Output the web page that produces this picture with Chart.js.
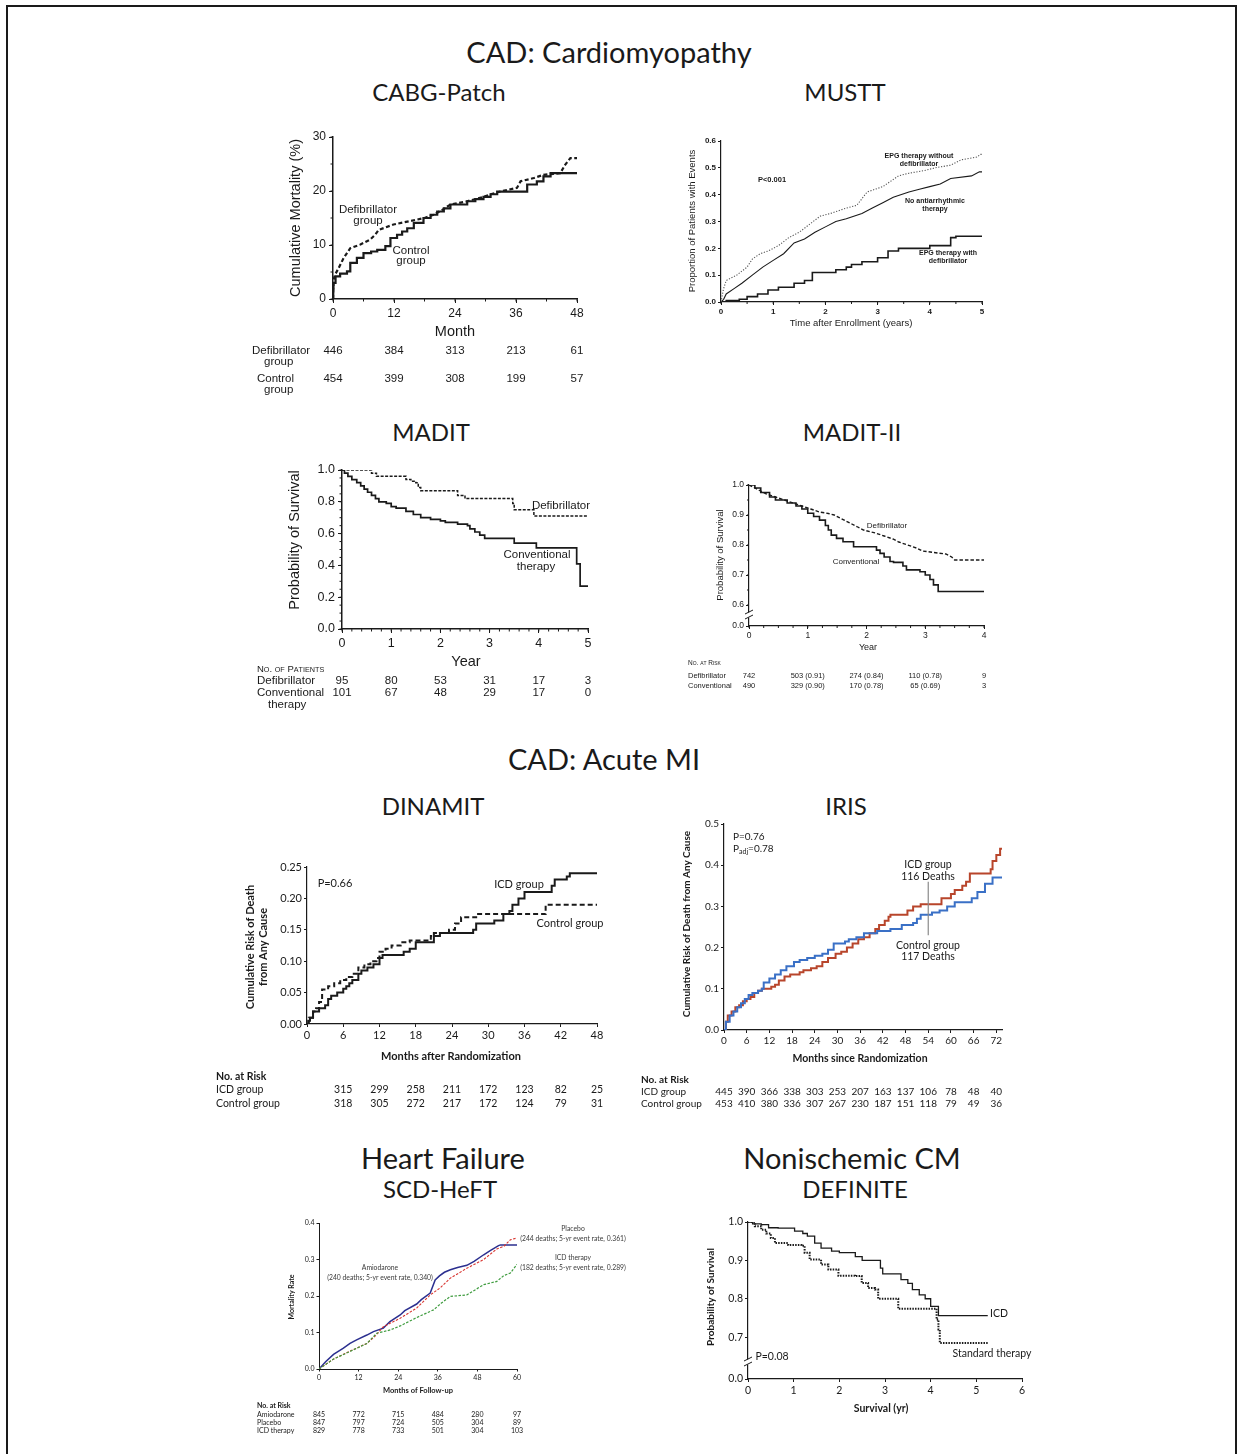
<!DOCTYPE html>
<html>
<head>
<meta charset="utf-8">
<script src="https://cdn.jsdelivr.net/npm/chart.js@4.4.1/dist/chart.umd.min.js"></script>
<style>
  html, body { margin: 0; padding: 0; background: #fff; }
  #page { position: relative; width: 1242px; height: 1454px; overflow: hidden; }
  #page canvas { position: absolute; left: 0; top: 0; }
  .frame { position: absolute; left: 6px; top: 5px; width: 1231px; height: 1500px; border: 2px solid #1a1a1a; box-sizing: border-box; }
  .ttl { position: absolute; font-family: Lato, "Open Sans", sans-serif; color: #1a1a1a; line-height: 1; white-space: nowrap; transform: translateX(-50%); }
  .h1 { font-size: 29px; }
  .h2 { font-size: 24px; }
</style>
</head>
<body>
<div id="page">
  <div class="frame"></div>
  <div class="ttl h1" style="left:609px;top:37px">CAD: Cardiomyopathy</div>
  <div class="ttl h2" style="left:439px;top:80px">CABG-Patch</div>
  <div class="ttl h2" style="left:845px;top:80px">MUSTT</div>
  <div class="ttl h2" style="left:431px;top:420px">MADIT</div>
  <div class="ttl h2" style="left:852px;top:420px">MADIT-II</div>
  <div class="ttl h1" style="left:604px;top:744px">CAD: Acute MI</div>
  <div class="ttl h2" style="left:433px;top:794px">DINAMIT</div>
  <div class="ttl h2" style="left:846px;top:794px">IRIS</div>
  <div class="ttl h1" style="left:443px;top:1143px">Heart Failure</div>
  <div class="ttl h2" style="left:440px;top:1177px">SCD-HeFT</div>
  <div class="ttl h1" style="left:852px;top:1143px">Nonischemic CM</div>
  <div class="ttl h2" style="left:855px;top:1177px">DEFINITE</div>

  <canvas id="cabg" width="1242" height="1454"></canvas>
  <canvas id="mustt" width="1242" height="1454"></canvas>
  <canvas id="madit" width="1242" height="1454"></canvas>
  <canvas id="madit2" width="1242" height="1454"></canvas>
  <canvas id="dinamit" width="1242" height="1454"></canvas>
  <canvas id="iris" width="1242" height="1454"></canvas>
  <canvas id="scdheft" width="1242" height="1454"></canvas>
  <canvas id="definite" width="1242" height="1454"></canvas>
</div>
<script>
// ---------- data: [time, value] steps ----------

// CABG-Patch (cumulative mortality, %)
const cabgMonths = [0, 12, 24, 36, 48];
const cabgYTicks = [0, 10, 20, 30];
const cabgDefib = [[0,0],[0.1,3.5],[0.4,4.5],[1.1,5.7],[2.1,7.6],[3.4,9.4],[5.4,10.1],[7.3,11],[8.3,11.9],[9,12.8],[11.9,13.8],[16.5,14.7],[18,15],[19.8,15.6],[21.5,16.5],[23.1,17.5],[26.4,18.1],[29.6,18.9],[31,19.4],[32.9,19.9],[36.2,20.6],[36.9,21.8],[39.5,22.4],[41.4,23],[44.7,23.3],[45.7,24.9],[46.7,26.1],[48,26.1]];
const cabgControl = [[0,0],[0.05,2],[0.1,3],[0.5,4.2],[1.4,4.7],[2.75,5.1],[3.4,6.7],[4.7,7.6],[6,8.5],[7.5,8.8],[8.7,9.1],[10.3,9.8],[11.3,11.3],[12.6,11.9],[13.6,12.5],[14.6,13.1],[15.9,14.1],[17.8,15],[19.2,15.6],[20.5,16.2],[21.8,16.8],[23.1,17.5],[26.4,18.1],[28,18.5],[29.6,18.9],[31,19.4],[32.3,19.9],[38.2,21.2],[40.1,21.8],[41.4,22.7],[42.8,23.3],[48,23.3]];
const cabgRiskDefib = [446, 384, 313, 213, 61];
const cabgRiskControl = [454, 399, 308, 199, 57];

// MUSTT (proportion with events)
const musttYears = [0, 1, 2, 3, 4, 5];
const musttYTicks = [0, 0.1, 0.2, 0.3, 0.4, 0.5, 0.6];
const musttEpgNoDefib = [[0,0],[0.05,0.05],[0.1,0.08],[0.3,0.1],[0.5,0.13],[0.6,0.16],[0.75,0.18],[0.9,0.19],[1.1,0.21],[1.3,0.24],[1.5,0.26],[1.7,0.29],[1.9,0.32],[2.1,0.33],[2.4,0.35],[2.6,0.36],[2.8,0.41],[3.1,0.43],[3.4,0.47],[3.6,0.48],[3.9,0.49],[4.1,0.5],[4.4,0.51],[4.6,0.53],[4.9,0.54],[4.97,0.55],[5,0.55]];
const musttNoTherapy = [[0,0],[0.05,0.01],[0.1,0.03],[0.25,0.05],[0.4,0.07],[0.6,0.1],[0.8,0.13],[1.0,0.155],[1.2,0.18],[1.4,0.22],[1.6,0.235],[1.8,0.26],[2.0,0.28],[2.2,0.3],[2.4,0.31],[2.7,0.33],[2.9,0.35],[3.1,0.37],[3.3,0.39],[3.6,0.41],[3.8,0.42],[4.0,0.43],[4.2,0.44],[4.4,0.46],[4.8,0.47],[4.95,0.485],[5,0.485]];
const musttEpgDefib = [[0,0],[0.1,0.005],[0.35,0.01],[0.5,0.02],[0.7,0.03],[0.9,0.045],[1.1,0.055],[1.4,0.07],[1.6,0.08],[1.75,0.11],[2.2,0.12],[2.4,0.13],[2.5,0.14],[2.7,0.15],[3.0,0.165],[3.2,0.19],[3.4,0.2],[4.0,0.21],[4.4,0.24],[4.5,0.245],[5,0.245]];

// MADIT (probability of survival)
const maditYears = [0, 1, 2, 3, 4, 5];
const maditYTicks = [0, 0.2, 0.4, 0.6, 0.8, 1.0];
const maditDefib = [[0,1],[0.6,0.98],[0.7,0.96],[1.3,0.94],[1.4,0.93],[1.5,0.92],[1.55,0.89],[1.6,0.87],[2.35,0.84],[2.5,0.82],[3.47,0.79],[3.5,0.75],[3.9,0.71],[5,0.71]];
const maditConv = [[0,1],[0.05,0.98],[0.12,0.96],[0.2,0.94],[0.3,0.92],[0.38,0.9],[0.45,0.88],[0.52,0.86],[0.6,0.84],[0.68,0.82],[0.75,0.8],[0.9,0.79],[1.0,0.77],[1.1,0.76],[1.3,0.74],[1.45,0.72],[1.6,0.7],[1.8,0.69],[2.0,0.68],[2.1,0.67],[2.35,0.66],[2.55,0.65],[2.6,0.63],[2.7,0.61],[2.8,0.59],[2.9,0.57],[3.5,0.54],[3.95,0.51],[4.77,0.41],[4.84,0.27],[5,0.27]];
const maditRiskDefib = [95, 80, 53, 31, 17, 3];
const maditRiskConv = [101, 67, 48, 29, 17, 0];

// MADIT-II (probability of survival, broken axis)
const madit2Years = [0, 1, 2, 3, 4];
const madit2YTicks = [0.53, 0.6, 0.7, 0.8, 0.9, 1.0];
const madit2Defib = [[0,1],[0.1,0.99],[0.2,0.98],[0.3,0.97],[0.45,0.96],[0.6,0.95],[0.75,0.94],[0.9,0.93],[1.05,0.92],[1.2,0.91],[1.35,0.905],[1.45,0.9],[1.55,0.89],[1.65,0.88],[1.75,0.87],[1.85,0.86],[1.95,0.85],[2.15,0.84],[2.3,0.83],[2.45,0.82],[2.55,0.81],[2.7,0.8],[2.85,0.79],[2.95,0.78],[3.15,0.775],[3.35,0.77],[3.45,0.76],[3.5,0.75],[4,0.75]];
const madit2Conv = [[0,1],[0.1,0.99],[0.2,0.975],[0.35,0.96],[0.45,0.95],[0.65,0.94],[0.8,0.93],[0.9,0.92],[1.0,0.906],[1.1,0.895],[1.2,0.883],[1.3,0.865],[1.35,0.85],[1.4,0.833],[1.49,0.822],[1.6,0.811],[1.78,0.794],[2.17,0.783],[2.23,0.772],[2.3,0.76],[2.4,0.745],[2.46,0.742],[2.62,0.73],[2.68,0.717],[2.91,0.711],[3.0,0.7],[3.08,0.685],[3.14,0.667],[3.22,0.645],[4,0.645]];
const madit2RiskDefib = ['742', '503 (0.91)', '274 (0.84)', '110 (0.78)', '9'];
const madit2RiskConv = ['490', '329 (0.90)', '170 (0.78)', '65 (0.69)', '3'];

// DINAMIT (cumulative risk of death)
const dinMonths = [0, 6, 12, 18, 24, 30, 36, 42, 48];
const dinYTicks = [0, 0.05, 0.1, 0.15, 0.2, 0.25];
const dinIcd = [[0,0],[0.2,0.005],[0.5,0.01],[1,0.02],[2,0.025],[3,0.03],[3.5,0.04],[4,0.045],[5,0.05],[6,0.056],[6.5,0.06],[7,0.065],[7.5,0.07],[8.5,0.08],[9,0.085],[10,0.09],[11,0.095],[12,0.105],[12.5,0.11],[16,0.115],[17,0.12],[18,0.13],[21,0.14],[22,0.145],[27.5,0.15],[28,0.16],[31,0.165],[32.5,0.175],[33.5,0.18],[34,0.19],[35,0.2],[36,0.21],[40.5,0.22],[41,0.23],[43,0.235],[43.5,0.24],[48,0.24]];
const dinControl = [[0,0],[0.3,0.01],[1,0.02],[1.5,0.025],[2,0.035],[2.5,0.055],[3.5,0.06],[4.5,0.065],[5.5,0.07],[6.5,0.075],[7.5,0.08],[8.5,0.09],[9.5,0.095],[10.5,0.1],[11.5,0.105],[12,0.115],[13,0.12],[14,0.125],[15.5,0.13],[17,0.133],[20.5,0.14],[21,0.145],[23.5,0.15],[24.5,0.16],[25.5,0.17],[28,0.175],[39.5,0.19],[48,0.19]];
const dinRiskCols = [6, 12, 18, 24, 30, 36, 42, 48];
const dinRiskIcd = [315, 299, 258, 211, 172, 123, 82, 25];
const dinRiskControl = [318, 305, 272, 217, 172, 124, 79, 31];

// IRIS (cumulative risk of death)
const irisMonths = [0, 6, 12, 18, 24, 30, 36, 42, 48, 54, 60, 66, 72];
const irisYTicks = [0, 0.1, 0.2, 0.3, 0.4, 0.5];
const irisIcd = [[0,0],[0.5,0.02],[1,0.035],[2,0.045],[3,0.055],[4,0.06],[5,0.07],[6,0.075],[7,0.08],[8,0.09],[9,0.095],[10,0.1],[12.5,0.105],[13.5,0.11],[14.5,0.12],[16,0.13],[17.5,0.135],[20,0.14],[21,0.145],[23,0.15],[24.5,0.155],[26,0.165],[27.5,0.175],[29.5,0.185],[31,0.19],[32.5,0.2],[34,0.21],[35.5,0.22],[37,0.225],[38.5,0.235],[40,0.245],[41,0.255],[42.5,0.265],[43.5,0.275],[44,0.28],[48.5,0.29],[50,0.3],[52,0.305],[57.5,0.32],[60,0.33],[61,0.34],[63,0.35],[64,0.36],[65,0.38],[70.5,0.39],[71,0.41],[72,0.425],[73,0.44],[73.5,0.44]];
const irisControl = [[0,0],[0.5,0.02],[1.5,0.035],[2.5,0.045],[3.5,0.055],[4.5,0.065],[5.5,0.075],[6.5,0.085],[7.5,0.09],[9,0.095],[10,0.1],[10.5,0.115],[12,0.125],[13.5,0.135],[15,0.145],[16.5,0.155],[18.5,0.165],[20,0.17],[22,0.175],[24,0.18],[26,0.185],[27.5,0.195],[29,0.21],[32,0.215],[33,0.22],[35,0.225],[37,0.235],[40.5,0.24],[44,0.245],[47,0.255],[50,0.26],[51,0.27],[52,0.28],[55,0.285],[57,0.29],[59,0.3],[61,0.31],[65.5,0.32],[67,0.335],[69,0.355],[71,0.37],[73.5,0.37]];
const irisRiskIcd = [445, 390, 366, 338, 303, 253, 207, 163, 137, 106, 78, 48, 40];
const irisRiskControl = [453, 410, 380, 336, 307, 267, 230, 187, 151, 118, 79, 49, 36];

// SCD-HeFT (mortality rate)
const scdMonths = [0, 12, 24, 36, 48, 60];
const scdYTicks = [0, 0.1, 0.2, 0.3, 0.4];
const scdAmiodarone = [[0,0],[2,0.02],[4.4,0.04],[7.4,0.057],[9.4,0.07],[11.4,0.08],[14.5,0.093],[16.5,0.1025],[19.5,0.112],[21.5,0.13],[24.6,0.148],[26,0.16],[29.6,0.178],[31,0.19],[33.7,0.208],[35.2,0.244],[36.5,0.255],[38,0.265],[39.8,0.272],[42,0.278],[44.8,0.284],[47,0.295],[49.9,0.313],[52,0.325],[54.4,0.338],[55,0.34],[60,0.34]];
const scdPlacebo = [[0,0],[4.35,0.027],[9.4,0.049],[14.5,0.07],[17,0.09],[19.5,0.116],[24.6,0.139],[29.6,0.167],[33.7,0.203],[36.7,0.222],[39.8,0.249],[44.8,0.276],[49.9,0.3],[53.9,0.329],[56,0.336],[58,0.354],[60,0.359]];
const scdIcd = [[0,0],[4.35,0.027],[9.4,0.048],[14.5,0.07],[17.5,0.098],[21.6,0.107],[24.6,0.118],[29.6,0.141],[34.7,0.162],[37,0.18],[39.8,0.199],[44.8,0.203],[49.9,0.231],[53.9,0.24],[56,0.256],[58,0.263],[60,0.287]];
const scdRiskAmiodarone = [845, 772, 715, 484, 280, 97];
const scdRiskPlacebo = [847, 797, 724, 505, 304, 89];
const scdRiskIcd = [829, 778, 733, 501, 304, 103];

// DEFINITE (probability of survival, broken axis)
const defYears = [0, 1, 2, 3, 4, 5, 6];
const defYTicks = [0.591, 0.7, 0.8, 0.9, 1.0];
const defIcd = [[0,1],[0.1,0.995],[0.29,0.993],[0.45,0.985],[0.66,0.984],[1.02,0.976],[1.2,0.97],[1.3,0.963],[1.46,0.945],[1.6,0.932],[1.83,0.924],[2.0,0.92],[2.35,0.91],[2.5,0.9],[2.9,0.88],[2.95,0.865],[3.35,0.85],[3.5,0.84],[3.6,0.824],[3.75,0.81],[3.88,0.8],[4.0,0.78],[4.17,0.756],[5.25,0.756]];
const defStandard = [[0,1],[0.15,0.989],[0.29,0.98],[0.4,0.97],[0.5,0.958],[0.59,0.945],[0.88,0.94],[1.17,0.938],[1.24,0.92],[1.35,0.902],[1.6,0.889],[1.76,0.876],[1.98,0.86],[2.34,0.859],[2.49,0.841],[2.63,0.828],[2.78,0.824],[2.85,0.8],[3.22,0.8],[3.29,0.774],[4.1,0.774],[4.13,0.746],[4.17,0.72],[4.2,0.685],[5.25,0.685]];

// ---------- drawing ----------
const W = 1242, H = 1454, AXW = 40, AXH = 20;
const HELV = '"Liberation Sans", Arial, sans-serif';
const NEJM = 'Lato, "Open Sans", sans-serif';
const INK = '#1a1a1a';

const fnt = (size, weight, fam) => `${weight || 'normal'} ${size}px ${fam}`;

function drawText(ctx, t, defFont) {
  ctx.save();
  ctx.font = t.font || defFont;
  ctx.fillStyle = t.color || INK;
  ctx.textAlign = t.align || 'center';
  ctx.textBaseline = 'middle';
  ctx.translate(t.x, t.y);
  if (t.rot) ctx.rotate(-Math.PI / 2);
  if (t.caps) {
    // small caps by hand: lowercase letters drawn as smaller capitals
    ctx.textAlign = 'left';
    ctx.textBaseline = 'alphabetic';
    let x = 0;
    for (const ch of t.text) {
      const low = ch !== ch.toUpperCase();
      ctx.font = fnt(low ? t.caps * 0.76 : t.caps, 'normal', t.fam);
      ctx.fillText(ch.toUpperCase(), x, t.caps * 0.36);
      x += ctx.measureText(ch.toUpperCase()).width;
    }
  } else if (t.parts) {
    ctx.textAlign = 'left';
    let x = 0;
    t.parts.forEach(p => {
      ctx.font = p.font;
      ctx.fillText(p.text, x, p.dy || 0);
      x += ctx.measureText(p.text).width;
    });
  } else {
    ctx.fillText(t.text, 0, 0);
  }
  ctx.restore();
}

const annot = {
  id: 'annot',
  afterDraw(chart, args, o) {
    const { ctx, chartArea: ca } = chart;
    const xs = chart.scales.x, ys = chart.scales.y;
    ctx.save();
    ctx.strokeStyle = INK;
    ctx.lineWidth = 1;
    const len = o.minorLen || 2;
    if (o.minorX) {
      ctx.beginPath();
      for (let i = 0; ; i++) {
        const v = xs.min + i * o.minorX;
        if (v > xs.max + 1e-9) break;
        const x = xs.getPixelForValue(v);
        ctx.moveTo(x, ca.bottom); ctx.lineTo(x, ca.bottom + len);
      }
      ctx.stroke();
    }
    if (o.minorY) {
      const from = o.minorYFrom !== undefined ? o.minorYFrom : ys.min;
      ctx.beginPath();
      for (let i = 0; ; i++) {
        const v = from + i * o.minorY;
        if (v > ys.max + 1e-9) break;
        const y = ys.getPixelForValue(v);
        ctx.moveTo(ca.left - len, y); ctx.lineTo(ca.left, y);
      }
      ctx.stroke();
    }
    if (o.brk) {
      const x = ca.left, y = o.brk;
      ctx.fillStyle = '#fff';
      ctx.fillRect(x - 2, y - 2.5, 4, 5);
      ctx.beginPath();
      ctx.moveTo(x - 4, y - 1); ctx.lineTo(x + 4, y - 5);
      ctx.moveTo(x - 4, y + 4); ctx.lineTo(x + 4, y);
      ctx.stroke();
    }
    (o.lines || []).forEach(l => {
      ctx.strokeStyle = l.color || INK;
      ctx.lineWidth = l.width || 1;
      ctx.beginPath();
      ctx.moveTo(xs.getPixelForValue(l.x), ys.getPixelForValue(l.y1));
      ctx.lineTo(xs.getPixelForValue(l.x), ys.getPixelForValue(l.y2));
      ctx.stroke();
    });
    (o.texts || []).forEach(t => drawText(ctx, t, o.font));
    (o.rows || []).forEach(r => {
      r.values.forEach((v, i) => drawText(ctx, {
        text: String(v), x: xs.getPixelForValue(o.cols[i]), y: r.y
      }, o.tableFont || o.font));
    });
    ctx.restore();
  }
};

function km(id, p) {
  const [L, T, R, B] = p.plot;
  const tk = p.tick;
  const axis = (vals, min, max, fmt, isX) => ({
    type: 'linear', min, max,
    afterBuildTicks: s => { s.ticks = vals.map(v => ({ value: v })); },
    afterFit: s => { if (isX) s.height = AXH; else s.width = AXW; },
    grid: { display: true, drawOnChartArea: false, drawTicks: true, tickLength: tk.len, tickWidth: 1, color: INK },
    border: { display: true, color: INK, width: p.axisWidth || 1.2 },
    ticks: {
      font: { family: p.fam, size: tk.size, weight: tk.weight || 'normal' },
      color: INK, padding: tk.pad, autoSkip: false, maxRotation: 0,
      callback: fmt
    }
  });
  const last = a => a[a.length - 1];
  return new Chart(document.getElementById(id), {
    type: 'line',
    data: {
      datasets: p.series.map(s => ({
        data: s.data.map(([x, y]) => ({ x, y })),
        borderColor: s.color || INK,
        borderWidth: s.width || 1.5,
        borderDash: s.dash || [],
        stepped: s.smooth || p.smooth ? false : true,
        tension: 0, pointRadius: 0, fill: false
      }))
    },
    options: {
      responsive: false, animation: false, events: [],
      layout: { padding: { left: L - AXW, top: T, right: W - R, bottom: H - B - AXH } },
      plugins: { legend: { display: false }, tooltip: { enabled: false }, annot: p.annot },
      scales: {
        x: axis(p.xTicks, p.xMin !== undefined ? p.xMin : p.xTicks[0], p.xMax !== undefined ? p.xMax : last(p.xTicks), p.xFmt || (v => v), true),
        y: axis(p.yTicks, p.yTicks[0], last(p.yTicks), p.yFmt || (v => v), false)
      }
    },
    plugins: [annot]
  });
}

// CABG-Patch
km('cabg', {
  plot: [333, 137, 577, 299], fam: HELV,
  xTicks: cabgMonths, yTicks: cabgYTicks,
  tick: { size: 12, len: 4, pad: 3 }, axisWidth: 1.5,
  series: [
    { data: cabgDefib, dash: [4, 2.5], width: 2.2, smooth: true },
    { data: cabgControl, width: 2.2 }
  ],
  annot: {
    font: fnt(11.5, 'normal', HELV), tableFont: fnt(11.5, 'normal', HELV),
    minorX: 6, minorY: 5, minorLen: 2.5,
    texts: [
      { text: 'Cumulative Mortality (%)', x: 296, y: 218, rot: true, font: fnt(14.5, 'normal', HELV) },
      { text: 'Month', x: 455, y: 332, font: fnt(14.5, 'normal', HELV) },
      { text: 'Defibrillator', x: 368, y: 210 }, { text: 'group', x: 368, y: 221 },
      { text: 'Control', x: 411, y: 251 }, { text: 'group', x: 411, y: 261 },
      { text: 'Defibrillator', x: 252, y: 351, align: 'left' },
      { text: 'group', x: 264, y: 362, align: 'left' },
      { text: 'Control', x: 257, y: 379, align: 'left' },
      { text: 'group', x: 264, y: 390, align: 'left' }
    ],
    cols: cabgMonths,
    rows: [{ y: 351, values: cabgRiskDefib }, { y: 379, values: cabgRiskControl }]
  }
});

// MUSTT
km('mustt', {
  plot: [721, 141, 982, 302], fam: HELV,
  xTicks: musttYears, yTicks: musttYTicks, yFmt: v => v.toFixed(1),
  tick: { size: 8, weight: 'bold', len: 3, pad: 2 }, axisWidth: 1.2,
  series: [
    { data: musttEpgNoDefib, dash: [1.2, 1.6], width: 1.1, color: '#555', smooth: true },
    { data: musttNoTherapy, width: 1.1, smooth: true },
    { data: musttEpgDefib, width: 1.6 }
  ],
  annot: {
    font: fnt(7, 'bold', HELV), minorX: 0.5, minorLen: 2,
    texts: [
      { text: 'Proportion of Patients with Events', x: 692, y: 221, rot: true, font: fnt(9.5, 'normal', HELV) },
      { text: 'Time after Enrollment (years)', x: 851, y: 323, font: fnt(9.5, 'normal', HELV) },
      { text: 'P<0.001', x: 772, y: 180, font: fnt(7.5, 'bold', HELV) },
      { text: 'EPG therapy without', x: 919, y: 156 }, { text: 'defibrillator', x: 919, y: 164 },
      { text: 'No antiarrhythmic', x: 935, y: 201 }, { text: 'therapy', x: 935, y: 209 },
      { text: 'EPG therapy with', x: 948, y: 253 }, { text: 'defibrillator', x: 948, y: 261 }
    ]
  }
});

// MADIT
km('madit', {
  plot: [342, 470, 588, 629], fam: HELV,
  xTicks: maditYears, yTicks: maditYTicks, yFmt: v => v.toFixed(1),
  tick: { size: 12.5, len: 4, pad: 3 }, axisWidth: 1.5,
  series: [
    { data: maditDefib, dash: [3, 1.5], width: 1.5 },
    { data: maditConv, width: 1.7 }
  ],
  annot: {
    font: fnt(11.5, 'normal', HELV), tableFont: fnt(11.5, 'normal', HELV),
    minorX: 0.2, minorY: 0.05, minorLen: 2.5,
    texts: [
      { text: 'Probability of Survival', x: 295, y: 540, rot: true, font: fnt(14.5, 'normal', HELV) },
      { text: 'Year', x: 466, y: 662, font: fnt(14.5, 'normal', HELV) },
      { text: 'Defibrillator', x: 561, y: 506 },
      { text: 'Conventional', x: 537, y: 555 }, { text: 'therapy', x: 536, y: 567 },
      { text: 'No. of Patients', x: 257, y: 669, caps: 9.5, fam: HELV },
      { text: 'Defibrillator', x: 257, y: 681, align: 'left' },
      { text: 'Conventional', x: 257, y: 693, align: 'left' },
      { text: 'therapy', x: 268, y: 705, align: 'left' }
    ],
    cols: maditYears,
    rows: [{ y: 681, values: maditRiskDefib }, { y: 693, values: maditRiskConv }]
  }
});

// MADIT-II
km('madit2', {
  plot: [749, 485, 984, 626], fam: HELV,
  xTicks: madit2Years, yTicks: madit2YTicks,
  yFmt: v => (v < 0.55 ? '0.0' : v.toFixed(1)),
  tick: { size: 8.5, len: 3, pad: 2 }, axisWidth: 1.2,
  series: [
    { data: madit2Defib, dash: [3.5, 2], width: 1.4, smooth: true },
    { data: madit2Conv, width: 1.6 }
  ],
  annot: {
    font: fnt(8, 'normal', HELV), tableFont: fnt(7.5, 'normal', HELV),
    minorX: 0.25, minorY: 0.05, minorYFrom: 0.6, minorLen: 2, brk: 615,
    texts: [
      { text: 'Probability of Survival', x: 720, y: 555, rot: true, font: fnt(9.5, 'normal', HELV) },
      { text: 'Year', x: 868, y: 648, font: fnt(9, 'normal', HELV) },
      { text: 'Defibrillator', x: 887, y: 526 },
      { text: 'Conventional', x: 856, y: 562 },
      { text: 'No. at Risk', x: 688, y: 663, caps: 6.5, fam: HELV },
      { text: 'Defibrillator', x: 688, y: 676, align: 'left', font: fnt(7.5, 'normal', HELV) },
      { text: 'Conventional', x: 688, y: 686, align: 'left', font: fnt(7.5, 'normal', HELV) }
    ],
    cols: madit2Years,
    rows: [{ y: 676, values: madit2RiskDefib }, { y: 686, values: madit2RiskConv }]
  }
});

// DINAMIT
km('dinamit', {
  plot: [307, 867, 597, 1024], fam: NEJM,
  xTicks: dinMonths, yTicks: dinYTicks, yFmt: v => v.toFixed(2),
  tick: { size: 11, len: 3, pad: 2 }, axisWidth: 1.2,
  series: [
    { data: dinIcd, width: 2 },
    { data: dinControl, dash: [5, 3], width: 2 }
  ],
  annot: {
    font: fnt(11, 'normal', NEJM), tableFont: fnt(10.5, 'normal', NEJM),
    texts: [
      { text: 'Cumulative Risk of Death', x: 250, y: 947, rot: true, font: fnt(11, 'bold', NEJM) },
      { text: 'from Any Cause', x: 263, y: 947, rot: true, font: fnt(11, 'bold', NEJM) },
      { text: 'Months after Randomization', x: 451, y: 1056, font: fnt(11, 'bold', NEJM) },
      { text: 'P=0.66', x: 335, y: 883 },
      { text: 'ICD group', x: 519, y: 884 },
      { text: 'Control group', x: 570, y: 923 },
      { text: 'No. at Risk', x: 216, y: 1077, align: 'left', font: fnt(10.5, 'bold', NEJM) },
      { text: 'ICD group', x: 216, y: 1090, align: 'left', font: fnt(10.5, 'normal', NEJM) },
      { text: 'Control group', x: 216, y: 1104, align: 'left', font: fnt(10.5, 'normal', NEJM) }
    ],
    cols: dinRiskCols,
    rows: [{ y: 1090, values: dinRiskIcd }, { y: 1104, values: dinRiskControl }]
  }
});

// IRIS
km('iris', {
  plot: [724, 824, 1002, 1030], fam: NEJM,
  xTicks: irisMonths, xMax: 73.5, yTicks: irisYTicks, yFmt: v => v.toFixed(1),
  tick: { size: 10, len: 3, pad: 2 }, axisWidth: 1.2,
  series: [
    { data: irisControl, width: 2, color: '#3a70c6' },
    { data: irisIcd, width: 2, color: '#b8452b' }
  ],
  annot: {
    font: fnt(10.5, 'normal', NEJM), tableFont: fnt(10, 'normal', NEJM),
    lines: [{ x: 54, y1: 0.36, y2: 0.23, color: '#8a8a8a', width: 1.2 }],
    texts: [
      { text: 'Cumulative Risk of Death from Any Cause', x: 687, y: 924, rot: true, font: fnt(10, 'bold', NEJM) },
      { text: 'Months since Randomization', x: 860, y: 1059, font: fnt(10.5, 'bold', NEJM) },
      { text: 'P=0.76', x: 733, y: 837, align: 'left', font: fnt(10, 'normal', NEJM) },
      { x: 733, y: 849, parts: [
        { text: 'P', font: fnt(10, 'normal', NEJM) },
        { text: 'adj', font: fnt(7, 'normal', NEJM), dy: 3 },
        { text: '=0.78', font: fnt(10, 'normal', NEJM) }
      ] },
      { text: 'ICD group', x: 928, y: 865 }, { text: '116 Deaths', x: 928, y: 877 },
      { text: 'Control group', x: 928, y: 946 }, { text: '117 Deaths', x: 928, y: 957 },
      { text: 'No. at Risk', x: 641, y: 1080, align: 'left', font: fnt(10, 'bold', NEJM) },
      { text: 'ICD group', x: 641, y: 1092, align: 'left', font: fnt(10, 'normal', NEJM) },
      { text: 'Control group', x: 641, y: 1104, align: 'left', font: fnt(10, 'normal', NEJM) }
    ],
    cols: irisMonths,
    rows: [{ y: 1092, values: irisRiskIcd }, { y: 1104, values: irisRiskControl }]
  }
});

// SCD-HeFT
km('scdheft', {
  plot: [319, 1223, 517, 1369], fam: NEJM, smooth: true,
  xTicks: scdMonths, yTicks: scdYTicks, yFmt: v => v.toFixed(1),
  tick: { size: 7, len: 2.5, pad: 2 }, axisWidth: 1,
  series: [
    { data: scdIcd, dash: [2.5, 1.5], width: 1.2, color: '#3f9c3f' },
    { data: scdPlacebo, dash: [2.5, 1.5], width: 1.1, color: '#d8342f' },
    { data: scdAmiodarone, width: 1.5, color: '#2b2f8f' }
  ],
  annot: {
    font: fnt(6.8, 'normal', NEJM), tableFont: fnt(7, 'normal', NEJM),
    texts: [
      { text: 'Mortality Rate', x: 292, y: 1297, rot: true, font: fnt(7, 'bold', NEJM) },
      { text: 'Months of Follow-up', x: 418, y: 1391, font: fnt(7.5, 'bold', NEJM) },
      { text: 'Amiodarone', x: 380, y: 1268, color: '#3a3a3a' },
      { text: '(240 deaths; 5-yr event rate, 0.340)', x: 380, y: 1278, color: '#3a3a3a' },
      { text: 'Placebo', x: 573, y: 1229, color: '#3a3a3a' },
      { text: '(244 deaths; 5-yr event rate, 0.361)', x: 573, y: 1239, color: '#3a3a3a' },
      { text: 'ICD therapy', x: 573, y: 1258, color: '#3a3a3a' },
      { text: '(182 deaths; 5-yr event rate, 0.289)', x: 573, y: 1268, color: '#3a3a3a' },
      { text: 'No. at Risk', x: 257, y: 1406, align: 'left', font: fnt(7, 'bold', NEJM) },
      { text: 'Amiodarone', x: 257, y: 1415, align: 'left', font: fnt(7, 'normal', NEJM) },
      { text: 'Placebo', x: 257, y: 1423, align: 'left', font: fnt(7, 'normal', NEJM) },
      { text: 'ICD therapy', x: 257, y: 1431, align: 'left', font: fnt(7, 'normal', NEJM) }
    ],
    cols: scdMonths,
    rows: [
      { y: 1415, values: scdRiskAmiodarone },
      { y: 1423, values: scdRiskPlacebo },
      { y: 1431, values: scdRiskIcd }
    ]
  }
});

// DEFINITE
km('definite', {
  plot: [748, 1222, 1022, 1379], fam: NEJM,
  xTicks: defYears, yTicks: defYTicks,
  yFmt: v => (v < 0.65 ? '0.0' : v.toFixed(1)),
  tick: { size: 10.5, len: 3, pad: 2 }, axisWidth: 1.2,
  series: [
    { data: defIcd, width: 1.3 },
    { data: defStandard, dash: [1.5, 1.2], width: 2 }
  ],
  annot: {
    font: fnt(10.5, 'normal', NEJM), brk: 1362,
    texts: [
      { text: 'Probability of Survival', x: 711, y: 1297, rot: true, font: fnt(10, 'bold', NEJM) },
      { text: 'Survival (yr)', x: 881, y: 1409, font: fnt(10.5, 'bold', NEJM) },
      { text: 'ICD', x: 990, y: 1314, align: 'left' },
      { text: 'Standard therapy', x: 992, y: 1354 },
      { text: 'P=0.08', x: 772, y: 1357 }
    ]
  }
});
</script>
</body>
</html>
